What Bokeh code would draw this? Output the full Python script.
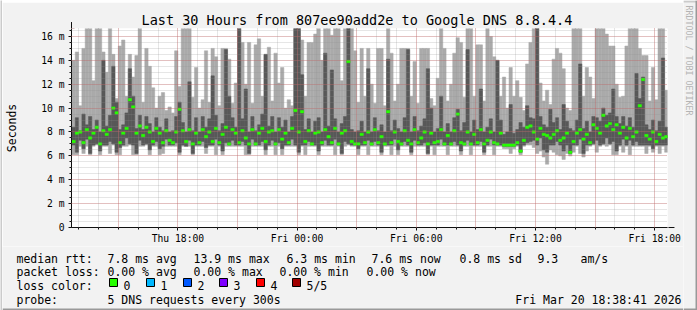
from datetime import datetime, timedelta
from math import pi

from bokeh.plotting import figure
from bokeh.layouts import row, column
from bokeh.core.properties import value
from bokeh.models import (FixedTicker, CustomJSTickFormatter, DatetimeTickFormatter,
                          Grid, Arrow, NormalHead, ColumnDataSource)
from bokeh.embed import file_html
from bokeh.resources import INLINE

# ---------------- data ----------------
TITLE = "Last 30 Hours from 807ee90add2e to Google DNS 8.8.4.4"
range_start = datetime(2026, 3, 19, 12, 38, 41)
range_end = datetime(2026, 3, 20, 18, 38, 41)
first_sample = datetime(2026, 3, 19, 12, 40)
step_min = 10

# five sorted pings per step (ms): min, 2nd, median, 4th, max
rtt_max = [
    14.0, 14.7, 10.2, 15.0, 16.9, 16.9, 12.3, 16.9, 16.9, 14.7,
    13.0, 16.9, 14.5, 10.8, 15.2, 15.7, 11.0, 14.5, 12.6, 14.4,
    16.9, 10.5, 15.0, 13.5, 11.7, 10.0, 11.0, 11.3, 9.8, 10.1,
    9.6, 14.8, 11.8, 16.9, 16.9, 16.9, 10.9, 13.4, 10.0, 10.7,
    14.8, 10.5, 15.0, 14.3, 10.2, 15.0, 15.0, 14.1, 10.4, 12.1,
    16.9, 15.5, 12.0, 15.5, 10.4, 15.3, 15.8, 11.0, 14.5, 15.1,
    10.6, 14.6, 12.1, 13.4, 10.0, 10.7, 10.2, 16.9, 16.9, 15.7,
    11.0, 15.5, 15.5, 16.2, 16.9, 14.0, 16.9, 16.9, 16.1, 16.9,
    16.9, 12.3, 16.9, 16.9, 16.9, 14.8, 10.5, 15.0, 11.0, 15.0,
    12.0, 10.4, 15.0, 15.0, 10.2, 16.9, 14.6, 10.6, 12.0, 15.0,
    15.0, 15.0, 11.0, 13.9, 10.4, 15.0, 15.0, 15.0, 10.8, 10.2,
    12.5, 16.9, 15.0, 10.6, 12.0, 14.6, 15.9, 15.5, 10.9, 16.9,
    16.9, 11.0, 15.3, 15.3, 10.6, 16.9, 16.0, 14.3, 14.0, 11.0,
    12.6, 10.0, 13.4, 11.0, 12.3, 10.9, 9.8, 13.7, 15.5, 16.9,
    16.9, 12.1, 10.6, 11.5, 10.3, 14.1, 15.0, 14.6, 13.3, 10.0,
    9.8, 16.9, 16.9, 16.9, 11.0, 13.4, 12.6, 10.8, 16.9, 16.9,
    16.9, 16.2, 15.2, 15.2, 12.0, 10.9, 11.0, 15.2, 16.9, 16.9,
    16.9, 15.0, 14.4, 14.4, 10.6, 13.4, 10.7, 16.9, 16.9, 11.5,
]
rtt_p4 = [
    8.4, 9.2, 8.1, 9.5, 8.6, 9.3, 8.2, 9.0, 8.0, 14.0,
    8.5, 9.4, 13.5, 10.5, 8.2, 8.6, 9.6, 13.3, 11.0, 8.3,
    9.4, 8.2, 9.3, 8.7, 8.0, 9.2, 8.4, 8.1, 9.1, 8.0,
    8.1, 9.3, 10.5, 8.8, 8.0, 12.2, 8.1, 9.2, 8.0, 9.3,
    8.4, 9.1, 12.7, 9.4, 8.1, 8.7, 14.9, 11.0, 9.2, 8.4,
    16.9, 9.1, 11.6, 8.0, 9.3, 8.1, 8.6, 9.5, 14.5, 8.5,
    9.3, 8.0, 9.2, 8.4, 9.0, 8.0, 9.3, 16.9, 16.9, 12.8,
    8.2, 9.1, 8.0, 8.9, 9.2, 8.0, 14.6, 8.5, 13.2, 9.1,
    8.0, 8.7, 9.3, 16.9, 8.2, 8.0, 8.1, 8.9, 8.0, 13.3,
    8.0, 9.2, 8.1, 8.6, 8.0, 14.1, 8.1, 9.0, 8.3, 8.0,
    9.2, 14.9, 8.0, 9.3, 8.1, 8.5, 9.1, 13.3, 10.0, 8.0,
    8.3, 11.0, 8.0, 8.7, 8.0, 9.2, 9.9, 8.1, 8.8, 14.9,
    8.0, 9.0, 8.2, 11.6, 8.0, 8.4, 9.1, 8.0, 14.0, 9.0,
    7.8, 8.0, 10.3, 7.9, 8.2, 8.8, 8.4, 10.2, 9.2, 9.1,
    16.9, 9.3, 8.6, 8.4, 9.9, 8.8, 9.2, 8.2, 10.3, 8.9,
    8.3, 8.1, 9.0, 13.7, 8.3, 8.9, 8.0, 9.3, 9.2, 8.9,
    10.0, 9.4, 9.6, 11.6, 9.3, 8.7, 9.3, 8.5, 9.2, 8.4,
    12.9, 10.8, 12.6, 8.6, 8.2, 9.0, 8.1, 8.9, 14.2, 8.4,
]
rtt_median = [
    7.2, 7.9, 8.0, 7.1, 8.2, 7.5, 7.9, 8.4, 7.0, 8.1,
    7.8, 8.2, 10.0, 9.6, 7.1, 7.9, 8.3, 10.7, 10.1, 7.9,
    8.5, 7.7, 8.4, 8.0, 7.2, 8.3, 7.9, 7.1, 8.1, 7.3,
    7.1, 8.0, 9.9, 8.1, 7.2, 8.2, 7.0, 7.9, 7.1, 8.2,
    7.6, 8.0, 7.2, 8.3, 7.1, 7.8, 8.4, 7.0, 8.2, 7.9,
    7.1, 8.1, 7.5, 7.0, 8.2, 7.0, 7.9, 8.3, 7.2, 8.0,
    8.1, 7.0, 8.2, 7.4, 7.9, 7.1, 8.3, 9.8, 8.0, 9.7,
    7.2, 8.1, 7.0, 7.9, 8.0, 7.1, 8.2, 7.6, 7.1, 8.3,
    7.0, 7.9, 8.1, 13.9, 7.2, 7.0, 7.0, 7.8, 7.1, 8.0,
    7.0, 8.2, 7.1, 7.6, 7.0, 9.7, 7.1, 8.0, 7.2, 7.0,
    8.1, 7.3, 7.0, 8.2, 7.1, 7.5, 8.0, 7.0, 7.9, 7.1,
    7.2, 8.2, 7.0, 7.7, 7.0, 8.1, 9.5, 7.1, 7.0, 8.0,
    7.0, 7.8, 7.1, 8.2, 7.0, 7.3, 8.0, 7.1, 7.0, 7.9,
    6.9, 6.9, 6.9, 6.9, 7.1, 6.4, 7.3, 8.4, 8.5, 8.0,
    7.4, 8.3, 7.8, 7.7, 7.5, 7.8, 8.1, 7.3, 7.5, 7.9,
    6.3, 7.2, 7.9, 8.2, 7.4, 7.8, 7.1, 8.6, 8.3, 7.9,
    9.4, 8.5, 8.7, 8.2, 8.6, 7.9, 8.4, 7.5, 8.3, 7.6,
    8.0, 10.2, 12.4, 7.7, 7.4, 8.0, 7.2, 7.8, 7.5, 7.6,
]
rtt_p2 = [
    6.9, 6.3, 7.3, 6.6, 7.4, 6.2, 6.9, 7.0, 6.4, 6.9,
    6.9, 7.2, 7.0, 6.3, 6.7, 6.9, 7.5, 7.0, 6.9, 6.2,
    7.3, 6.9, 7.0, 6.5, 6.9, 7.2, 6.6, 6.8, 7.4, 6.9,
    6.9, 7.1, 6.3, 6.9, 6.8, 7.3, 6.2, 6.9, 6.9, 7.2,
    6.7, 6.9, 6.9, 7.4, 6.9, 6.4, 7.1, 6.9, 7.3, 6.9,
    6.9, 7.2, 6.9, 6.2, 7.4, 6.9, 6.9, 7.2, 6.5, 6.9,
    7.3, 6.9, 7.1, 6.6, 6.9, 6.9, 7.4, 6.9, 6.3, 6.9,
    6.9, 7.2, 6.9, 6.9, 6.4, 6.9, 7.3, 6.9, 6.9, 7.4,
    6.9, 6.2, 7.2, 7.0, 6.9, 6.9, 6.6, 6.9, 6.9, 7.3,
    6.9, 7.2, 6.9, 6.3, 6.9, 6.9, 6.9, 7.4, 6.5, 6.9,
    7.2, 6.9, 6.3, 7.3, 6.9, 6.9, 7.1, 6.2, 6.9, 6.9,
    6.9, 7.4, 6.9, 6.9, 6.9, 7.2, 6.9, 6.4, 6.9, 7.3,
    6.9, 6.9, 6.9, 7.2, 6.3, 6.9, 7.4, 6.9, 6.9, 6.9,
    6.8, 6.8, 6.8, 6.8, 6.9, 6.3, 6.9, 7.1, 7.2, 7.3,
    6.9, 7.5, 6.5, 6.3, 6.9, 6.9, 7.2, 6.9, 6.4, 6.9,
    6.2, 6.9, 6.9, 7.4, 6.2, 6.9, 6.9, 7.0, 7.3, 6.9,
    7.0, 7.5, 7.0, 7.2, 6.4, 6.9, 7.4, 6.9, 7.3, 6.9,
    7.2, 6.9, 6.9, 6.9, 6.9, 6.6, 6.9, 6.9, 6.9, 6.9,
]
rtt_min = [
    6.1, 6.1, 6.8, 6.2, 6.8, 6.1, 6.8, 6.9, 6.1, 6.8,
    6.8, 6.2, 6.9, 6.1, 6.1, 6.8, 6.8, 6.9, 6.1, 6.1,
    6.8, 6.8, 6.9, 6.1, 6.8, 6.8, 6.1, 6.2, 6.8, 6.8,
    6.8, 6.8, 6.1, 6.8, 6.8, 6.8, 6.1, 6.8, 6.8, 6.8,
    6.2, 6.8, 6.8, 6.1, 6.8, 6.1, 6.8, 6.8, 6.8, 6.8,
    6.8, 6.8, 6.1, 6.1, 6.8, 6.8, 6.8, 6.8, 6.1, 6.8,
    6.8, 6.1, 6.8, 6.1, 6.8, 6.8, 6.8, 6.8, 6.1, 6.8,
    6.1, 6.8, 6.8, 6.8, 6.1, 6.8, 6.8, 6.8, 6.8, 6.1,
    6.8, 6.1, 6.8, 6.9, 6.8, 6.8, 6.1, 6.8, 6.8, 6.1,
    6.8, 6.8, 6.8, 6.1, 6.8, 6.8, 6.1, 6.8, 6.1, 6.8,
    6.8, 6.8, 6.1, 6.8, 6.8, 6.8, 6.8, 6.1, 6.8, 6.1,
    6.8, 6.8, 6.8, 6.1, 6.8, 6.8, 6.8, 6.1, 6.8, 6.8,
    6.1, 6.8, 6.8, 6.8, 6.1, 6.8, 6.8, 6.1, 6.8, 6.8,
    6.6, 6.6, 6.2, 6.6, 6.8, 6.1, 6.8, 6.9, 6.9, 6.7,
    6.2, 6.4, 5.9, 5.3, 6.5, 6.3, 6.1, 6.0, 5.7, 6.2,
    6.0, 6.3, 6.8, 6.2, 5.9, 6.4, 6.8, 6.9, 6.3, 6.8,
    6.9, 6.8, 6.9, 6.1, 6.1, 6.8, 6.3, 6.8, 6.1, 6.8,
    6.8, 6.8, 6.8, 6.2, 6.8, 6.3, 6.8, 6.2, 6.8, 6.3,
]

y_major = [0, 2, 4, 6, 8, 10, 12, 14, 16]
y_minor = [v * 0.5 for v in range(0, 34)]
label_hours = [datetime(2026, 3, 19, 18), datetime(2026, 3, 20, 0), datetime(2026, 3, 20, 6),
               datetime(2026, 3, 20, 12), datetime(2026, 3, 20, 18)]
mgrid_hours = [datetime(2026, 3, 19, 15) + timedelta(hours=3 * k) for k in range(10)]
grid_hours = [datetime(2026, 3, 19, 13) + timedelta(hours=k) for k in range(30)]

legend_rtt = ["median rtt:", "7.8 ms avg", "13.9 ms max", "6.3 ms min", "7.6 ms now", "0.8 ms sd", "9.3", "am/s"]
legend_loss = ["packet loss:", "0.00 % avg", "0.00 % max", "0.00 % min", "0.00 % now"]
loss_labels = ["0", "1", "2", "3", "4", "5/5"]
loss_colors = ["#26ff00", "#00b8ff", "#0059ff", "#7e00ff", "#ff0000", "#a10000"]
probe_labels = ["loss color:", "probe:", "5 DNS requests every 300s"]
stamp_text = "Fri Mar 20 18:38:41 2026"
watermark = "RRDTOOL / TOBI OETIKER"

# ---------------- page geometry (pixels) ----------------
W, H = 697, 310
FONT = "DejaVu Sans Mono"
BG = "#f2f2f2"
SHADE_A, SHADE_B = "#cbcbcb", "#999999"
COL_W = 681                     # width of the middle column (page x 2..683)
MAIN_H, LEG_H = 244, 64         # main plot (page y 2..246), legend (246..310)
F_LEFT, F_RIGHT, F_TOP, F_BOTTOM = 65, 16, 26, 18
Y_TOP = (MAIN_H - F_TOP - F_BOTTOM) / 12.0   # 12 px per ms

EPOCH = datetime(1970, 1, 1)


def ms(dt):
    return (dt - EPOCH).total_seconds() * 1000.0


n = len(rtt_median)
lefts = [ms(first_sample + timedelta(minutes=step_min * i)) for i in range(n)]
rights = [ms(first_sample + timedelta(minutes=step_min * (i + 1))) for i in range(n)]
src = ColumnDataSource(dict(left=lefts, right=rights, mn=rtt_min, p2=rtt_p2, med=rtt_median,
                            p4=rtt_p4, mx=rtt_max,
                            mlo=[m - 0.1 for m in rtt_median], mhi=[m + 0.1 for m in rtt_median]))

# ---------------- main plot ----------------
p = figure(width=COL_W, height=MAIN_H, x_axis_type="datetime",
           x_range=(ms(range_start), ms(range_end)), y_range=(0, Y_TOP),
           output_backend="svg", toolbar_location=None, title=TITLE,
           min_border_left=F_LEFT, min_border_right=F_RIGHT, min_border_top=F_TOP,
           min_border_bottom=F_BOTTOM)
p.frame_align = False
p.background_fill_color = "white"
p.border_fill_color = BG
p.outline_line_color = None
p.title.align = "left"
p.title.offset = 70
p.title.standoff = 2
p.title.text_font = FONT
p.title.text_font_size = "13.5px"
p.title.text_font_style = "normal"
p.title.text_color = "black"

p.quad(left="left", right="right", bottom="mn", top="mx", source=src,
       fill_color="#aaaaaa", line_color="#aaaaaa", line_width=0.5)
p.quad(left="left", right="right", bottom="p2", top="p4", source=src,
       fill_color="#585858", line_color="#585858", line_width=0.5)
p.quad(left="left", right="right", bottom="mlo", top="mhi", source=src,
       fill_color="#26ff00", line_color="#26ff00", line_width=0.5)

p.yaxis.ticker = FixedTicker(ticks=y_major, minor_ticks=y_minor)
p.yaxis.formatter = CustomJSTickFormatter(code="return tick == 0 ? '0' : tick.toFixed(0) + ' m';")
p.xaxis.ticker = FixedTicker(ticks=[ms(d) for d in label_hours], minor_ticks=[ms(d) for d in grid_hours])
fmt = "%a %H:%M"
p.xaxis.formatter = DatetimeTickFormatter(milliseconds=fmt, seconds=fmt, minsec=fmt, minutes=fmt,
                                          hourmin=fmt, hours=fmt, days=fmt, months=fmt, years=fmt)
for ax in (p.xaxis[0], p.yaxis[0]):
    ax.major_label_text_font = FONT
    ax.major_label_text_font_size = "9.7px"
    ax.major_label_text_color = "black"
    ax.axis_line_color = "#111111"
    ax.major_tick_line_color = "#111111"
    ax.minor_tick_line_color = "#111111"
    ax.major_tick_out = 3
    ax.major_tick_in = 0
    ax.minor_tick_out = 2
    ax.minor_tick_in = 0
p.yaxis.major_label_standoff = 4
p.xaxis.major_label_standoff = 2
p.yaxis.axis_label = "Seconds"
p.yaxis.axis_label_text_font = FONT
p.yaxis.axis_label_text_font_size = "11.5px"
p.yaxis.axis_label_text_font_style = "normal"
p.yaxis.axis_label_text_color = "black"
p.yaxis.axis_label_standoff = 19

p.xgrid.visible = False
p.ygrid.grid_line_color = "#de5050"
p.ygrid.grid_line_alpha = 0.5
p.ygrid.grid_line_dash = "1 1"
p.ygrid.minor_grid_line_color = "#8f8f8f"
p.ygrid.minor_grid_line_alpha = 0.45
p.ygrid.minor_grid_line_dash = "1 1"
p.ygrid.level = "overlay"
p.add_layout(Grid(dimension=0, ticker=FixedTicker(ticks=[ms(d) for d in grid_hours]),
                  grid_line_color="#8f8f8f", grid_line_alpha=0.45, grid_line_dash="1 1", level="overlay"))
p.add_layout(Grid(dimension=0, ticker=FixedTicker(ticks=[ms(d) for d in mgrid_hours]),
                  grid_line_color="#de5050", grid_line_alpha=0.5, grid_line_dash="1 1", level="overlay"))

px_ms_x = (ms(range_end) - ms(range_start)) / (COL_W - F_LEFT - F_RIGHT)
p.add_layout(Arrow(x_start=ms(range_end), y_start=0, x_end=ms(range_end) + 7 * px_ms_x, y_end=0,
                   line_color="#111111", line_width=1,
                   end=NormalHead(size=6, fill_color="#7f1f1f", line_color="#7f1f1f")))
p.add_layout(Arrow(x_start=ms(range_start), y_start=Y_TOP, x_end=ms(range_start), y_end=Y_TOP + 6.5 / 12.0,
                   line_color="#111111", line_width=1,
                   end=NormalHead(size=6, fill_color="#7f1f1f", line_color="#7f1f1f")))

# ---------------- legend panel (page pixel coordinates) ----------------
leg = figure(width=COL_W, height=LEG_H, x_range=(2, 2 + COL_W), y_range=(H, H - LEG_H),
             output_backend="svg", toolbar_location=None, min_border=0,
             x_axis_location=None, y_axis_location=None)
leg.frame_align = False
leg.background_fill_color = BG
leg.border_fill_color = BG
leg.outline_line_color = None
leg.grid.visible = False

txt = dict(text_font=value(FONT), text_font_size=value("11.5px"), text_color="black",
           text_baseline="alphabetic")
leg.text(x=[16, 107, 193, 286, 371, 459, 537, 580], y=[258] * len(legend_rtt), text=legend_rtt, **txt)
leg.text(x=[16, 107, 193, 279, 366], y=[271.5] * len(legend_loss), text=legend_loss, **txt)
leg.text(x=[16, 16, 107], y=[285, 299, 299], text=probe_labels, **txt)
leg.text(x=[681], y=[299], text=[stamp_text], text_align="right", **txt)
box_x = [109, 146, 183, 219, 256, 292]
leg.quad(left=box_x, right=[b + 8 for b in box_x], top=[278] * 6, bottom=[286] * 6,
         fill_color=loss_colors, line_color="black", line_width=1)
leg.text(x=[b + 14 for b in box_x], y=[285] * 6, text=loss_labels, **txt)
leg.quad(left=[2], right=[2 + COL_W], top=[H - 2], bottom=[H], fill_color=SHADE_B, line_color=None)

# ---------------- frame strips ----------------
top_strip = figure(width=COL_W, height=2, output_backend="svg", toolbar_location=None, min_border=0,
                   x_axis_location=None, y_axis_location=None)
left_strip = figure(width=2, height=H, output_backend="svg", toolbar_location=None, min_border=0,
                    x_axis_location=None, y_axis_location=None)
for f in (top_strip, left_strip):
    f.frame_align = False
    f.background_fill_color = SHADE_A
    f.border_fill_color = SHADE_A
    f.outline_line_color = None
    f.grid.visible = False

right = figure(width=W - 2 - COL_W, height=H, x_range=(2 + COL_W, W), y_range=(H, 0),
               output_backend="svg", toolbar_location=None, min_border=0,
               x_axis_location=None, y_axis_location=None)
right.frame_align = False
right.background_fill_color = BG
right.border_fill_color = BG
right.outline_line_color = None
right.grid.visible = False
right.text(x=[688], y=[60], text=[watermark], angle=-pi / 2, text_align="center", text_baseline="middle",
           text_font=value(FONT), text_font_size=value("8.3px"), text_color="#b4b4b4")
right.quad(left=[2 + COL_W], right=[W], top=[0], bottom=[2], fill_color=SHADE_A, line_color=None)
right.quad(left=[W - 2], right=[W], top=[0], bottom=[H], fill_color=SHADE_B, line_color=None)
right.quad(left=[2 + COL_W], right=[W], top=[H - 2], bottom=[H], fill_color=SHADE_B, line_color=None)

layout = row(left_strip, column(top_strip, p, leg), right)
open("out.html", "w").write(file_html(layout, INLINE))
